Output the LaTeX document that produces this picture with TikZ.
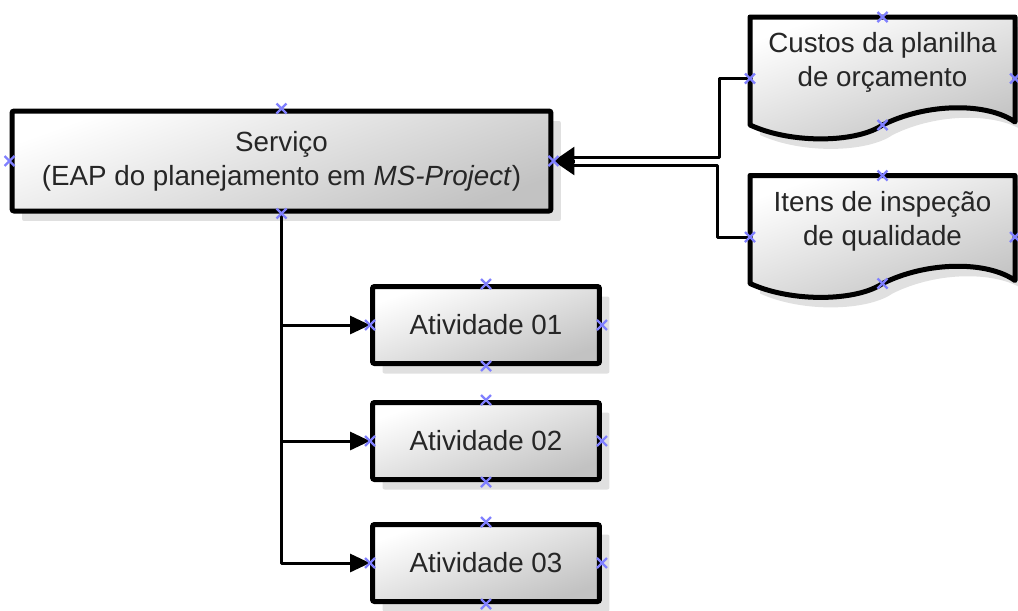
\documentclass[tikz,border=0pt]{standalone}
\usepackage{fontspec}
\setmainfont{Liberation Sans}
\usetikzlibrary{arrows.meta,shadows,backgrounds}

% wavy outline of a document, around its text node
\newcommand{\docoutline}[1]{%
  \draw[docline] ([shift={(-132.5,-45.5)}]#1.center) -- ([shift={(132.5,-45.5)}]#1.center)
    -- ([shift={(132.5,59.5)}]#1.center)
    .. controls ([shift={(105,40)}]#1.center) and ([shift={(45,40)}]#1.center) .. ([shift={(0,62.5)}]#1.center)
    .. controls ([shift={(-25,80)}]#1.center) and ([shift={(-90,82)}]#1.center) .. ([shift={(-132.5,62.5)}]#1.center)
    -- cycle;}

\begin{document}
\begin{tikzpicture}[x=0.02cm, y=-0.02cm,
    box/.style={rectangle, draw=black, line width=0.1cm, rounded corners=0.04cm,
      top color=white, bottom color=black!24, shading angle=20,
      drop shadow={shadow xshift=0.2cm, shadow yshift=-0.2cm, fill=black!12, opacity=1},
      font=\fontsize{15.8}{19.5}\selectfont, text=black!85, align=center},
    docline/.style={draw=black, line width=0.1cm, line join=round,
      top color=white, bottom color=black!24, shading angle=20,
      drop shadow={shadow xshift=0.2cm, shadow yshift=-0.2cm, fill=black!12, opacity=1}},
    doctext/.style={minimum width=5.3cm, inner sep=0pt, align=center,
      font=\fontsize{15.8}{19.5}\selectfont, text=black!85},
    link/.style={line width=0.06cm, line join=round},
    cpt/.style={draw=blue!50, line width=0.045cm}]
  \useasboundingbox (0,0) rectangle (1018,610);

  \node[box, minimum width=10.78cm, minimum height=2cm] (serv) at (281.5,161)
    {Serviço\\(EAP do planejamento em \textit{MS-Project})};
  \node[box, minimum width=4.54cm, minimum height=1.54cm] (act1) at (486,325) {Atividade 01};
  \node[box, minimum width=4.54cm, minimum height=1.54cm] (act2) at (486,441) {Atividade 02};
  \node[box, minimum width=4.54cm, minimum height=1.54cm] (act3) at (486,563) {Atividade 03};

  \node[doctext] (cost) at (882.5,62.5) {Custos da planilha\\de orçamento};
  \node[doctext] (insp) at (882.5,221) {Itens de inspeção\\de qualidade};
  \begin{scope}[on background layer]
    \docoutline{cost}
    \docoutline{insp}
  \end{scope}

  \coordinate (merge) at ([shift={(20,0)}]serv.east);
  \draw[link] ([shift={(0,16)}]cost.west) -- ++(-30,0) |- ([shift={(0,-4)}]merge);
  \draw[link] ([shift={(0,16)}]insp.west) -- ++(-32,0) |- ([shift={(0,4)}]merge);
  \draw[link, -{Triangle[length=0.42cm, width=0.56cm]}] ([shift={(1,0)}]merge) -- (serv.east);
  \foreach \n in {act1,act2,act3}
    \draw[link, -{Triangle[length=0.4cm, width=0.36cm]}] (serv.south) |- (\n.west);

  % connection points
  \foreach \b in {serv,act1,act2,act3}
    \foreach \a in {north,south,east,west}
      \draw[cpt] (\b.\a) +(-5,-5) -- +(5,5) +(-5,5) -- +(5,-5);
  \foreach \b in {cost,insp}
    \foreach \p in {(0,-45.5),(-132.5,16),(132.5,16),(0,62.5)}
      \draw[cpt] ([shift={\p}]\b.center) +(-5,-5) -- +(5,5) +(-5,5) -- +(5,-5);
\end{tikzpicture}
\end{document}
